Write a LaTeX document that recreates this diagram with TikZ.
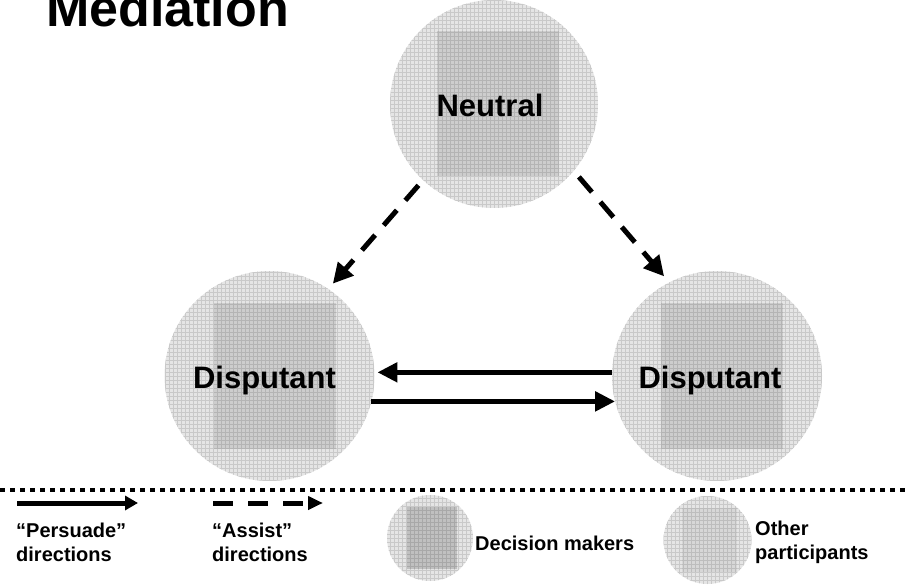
\documentclass[tikz,border=0pt]{standalone}
\usepackage{fontspec}
\setmainfont{Liberation Sans}
\usetikzlibrary{arrows.meta,positioning,calc}
\tikzset{
  party/.style    = {circle, fill=black!10, inner sep=0pt, outer sep=0pt, minimum size=#1,
                     path picture={\draw[black!21, line width=0.4pt] (path picture bounding box.south west) grid[step=4pt] (path picture bounding box.north east);}},
  core/.style     = {rectangle, fill=black, fill opacity=#1, inner sep=0pt, outer sep=0pt},
  who/.style      = {font=\fontsize{31}{36}\selectfont\bfseries, inner sep=0pt},
  key/.style      = {font=\fontsize{20}{24}\selectfont\bfseries, inner sep=0pt, align=left},
  persuade/.style = {-{Triangle[length=20pt,width=19pt]}, line width=5.5pt},
  assist/.style   = {-{Triangle[length=20pt,width=20pt]}, line width=5pt, dash pattern=on 20pt off 13pt},
  divider/.style  = {line width=4.5pt, dash pattern=on 5pt off 5pt}
}
\begin{document}
\begin{tikzpicture}[x=1pt, y=1pt]
    \useasboundingbox (0,0) rectangle (909,584);
    \node[anchor=base west, inner sep=0pt, font=\fontsize{52}{60}\selectfont\bfseries] (title) at (46,557) {Mediation};

    % the three parties
    \node[party=208pt] (neu) at (494,480) {};
    \node[core=0.1, minimum width=122pt, minimum height=145pt] (neu-in) at ([xshift=4pt]neu.center) {};
    \node[who, anchor=base] (neu-txt) at ([xshift=-4pt, yshift=-13pt]neu.center) {Neutral};

    \node[party=210pt] (d1) at (269.5,208) {};
    \node[core=0.1, minimum width=122pt, minimum height=145pt] (d1-in) at ([xshift=5pt]d1.center) {};
    \node[who, anchor=base] (d1-txt) at ([xshift=-5pt, yshift=-12.5pt]d1.center) {Disputant};

    \node[party=210pt] (d2) at (717,208) {};
    \node[core=0.1, minimum width=122pt, minimum height=145pt] (d2-in) at ([xshift=5pt]d2.center) {};
    \node[who, anchor=base] (d2-txt) at ([xshift=-7pt, yshift=-12.5pt]d2.center) {Disputant};

    \draw[assist, shorten <=7pt, shorten >=7pt] (neu.227) -- (d1.56);
    \draw[assist, shorten <=8pt, shorten >=8pt] (neu.-40) -- (d2.117);
    \draw[persuade, shorten >=3pt] (d2.178) -- (d1.2);
    \draw[persuade] (d1.-14) -- (d2.194);

    % legend
    \draw[divider] (0,94) -- (909,94);
    \coordinate (p-from) at (17,81);
    \coordinate (p-to)   at (138,81);
    \draw[-{Triangle[length=13pt,width=14pt]}, line width=5pt] (p-from) -- (p-to);
    \node[key, anchor=base west] (p-txt) at (16,23) {“Persuade”\\directions};

    \coordinate (a-from) at (213,81);
    \coordinate (a-to)   at (323,81);
    \draw[-{Triangle[length=15pt,width=13pt]}, line width=5pt, dash pattern=on 20pt off 15pt] (a-from) -- (a-to);
    \node[key, anchor=base west] (a-txt) at (212,23) {“Assist”\\directions};

    \node[party=86pt] (dm) at (430,46) {};
    \node[core=0.16, minimum width=50pt, minimum height=62pt] (dm-in) at ([xshift=2pt]dm.center) {};
    \node[key, anchor=base west] (dm-txt) at (475,34) {Decision makers};

    \node[party=88pt] (op) at (707.5,44) {};
    \node[core=0.06, minimum width=55pt, minimum height=64pt] (op-in) at ([xshift=2pt]op.center) {};
    \node[key, anchor=base west] (op-txt) at (755,25) {Other\\participants};
\end{tikzpicture}
\end{document}
